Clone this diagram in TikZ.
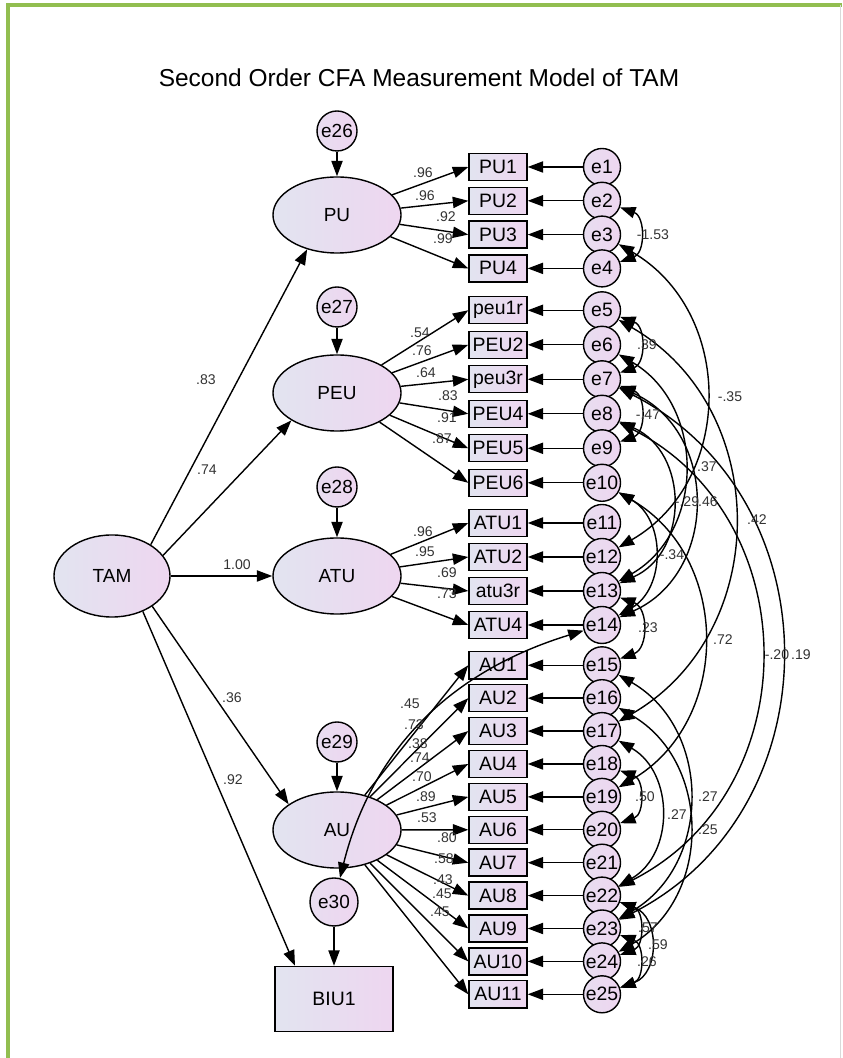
\documentclass[tikz,border=0pt]{standalone}
\usepackage{fontspec}
\setmainfont{Liberation Sans}
\usetikzlibrary{arrows.meta,shapes.geometric,calc}
\definecolor{lavl}{RGB}{226,228,240}
\definecolor{lavr}{RGB}{238,214,240}
\definecolor{framegreen}{RGB}{146,190,80}
\tikzset{
  latent/.style={ellipse,draw,left color=lavl,right color=lavr,minimum width=3.2cm,minimum height=1.9cm,inner sep=0pt,font=\fontsize{13.5}{15}\selectfont},
  ind/.style={rectangle,draw,left color=lavl,right color=lavr,minimum width=1.45cm,minimum height=0.675cm,inner sep=0pt,font=\fontsize{13.8}{15}\selectfont},
  err/.style={circle,draw,left color=lavl!50!lavr,right color=lavr,minimum size=0.925cm,inner sep=0pt,font=\fontsize{13.8}{15}\selectfont},
  dist/.style={err,minimum size=1cm,font=\fontsize{13.5}{15}\selectfont},
  coef/.style={inner sep=0pt,text=black!80,font=\fontsize{10}{11}\selectfont},
  covshort/.style={bend left=70,looseness=1.27},
  covlong/.style={bend left=60,looseness=1.135},
}
\begin{document}
\begin{tikzpicture}[x=0.025cm,y=0.025cm,line width=1pt,>={Triangle[length=11pt,width=8pt]}]
\useasboundingbox (0,0) rectangle (842,1058);
\draw[framegreen,line width=2.2pt](8,0)--(8,1053)--(842,1053);
\draw[black!15,line width=0.6pt](840,0)--(840,1053);
\node[font=\fontsize{17.4}{20}\selectfont] (title) at (419,980) {Second Order CFA Measurement Model of TAM};
%% latent variables
\node[latent,minimum width=2.9cm,minimum height=2.05cm] (TAM) at (112,482) {TAM};
\node[latent] (PU) at (337,843) {PU};
\node[latent] (PEU) at (337,665) {PEU};
\node[latent] (ATU) at (337,482) {ATU};
\node[latent] (AU) at (337,228) {AU};
\node[ind,minimum width=2.95cm,minimum height=1.625cm] (BIU1) at (334,59) {BIU1};
\node[dist] (e26) at (337,927) {e26};
\node[dist] (e27) at (337,751) {e27};
\node[dist] (e28) at (337,571) {e28};
\node[dist] (e29) at (337,316) {e29};
\node[dist,minimum size=1.2cm] (e30) at (334,156) {e30};
%% indicators and their errors
\foreach \n/\t/\y in {1/PU1/891,2/PU2/857.2,3/PU3/823.4,4/PU4/789.6,
  5/peu1r/747.7,6/PEU2/713.2,7/peu3r/678.7,8/PEU4/644.2,9/PEU5/609.7,10/PEU6/575.2,
  11/ATU1/535,12/ATU2/501,13/atu3r/467,14/ATU4/433,
  15/AU1/392.7,16/AU2/359.8,17/AU3/326.9,18/AU4/294,19/AU5/261.1,20/AU6/228.2,
  21/AU7/195.3,22/AU8/162.4,23/AU9/129.5,24/AU10/96.6,25/AU11/63.7}{
  \node[ind] (i\n) at (498,\y) {\t};
  \node[err] (e\n) at (602,\y) {e\n};
  \draw[->] (e\n) -- (i\n);
}
%% structural paths
\draw[->] (TAM.39) -- (PU.229);
\draw[->] (TAM.22) -- (PEU.211);
\draw[->] (TAM) -- (ATU);
\draw[->] (TAM.-37) -- (AU.152);
\draw[->] (TAM.-49) -- ($(BIU1.north)+(-39,0)$);
\draw[->] (e26) -- (PU);
\draw[->] (e27) -- (PEU);
\draw[->] (e28) -- (ATU);
\draw[->] (e29) -- (AU);
\draw[->] (e30) -- (BIU1);
%% loadings
\foreach \n in {1,...,4} \draw[->] (PU) -- (i\n.west);
\foreach \n in {5,...,10} \draw[->] (PEU) -- (i\n.west);
\foreach \n in {11,...,14} \draw[->] (ATU) -- (i\n.west);
\foreach \n in {15,...,25} \draw[->] (AU) -- (i\n.west);
%% error covariances
\draw[<->] (e2) to[covshort] (e4);
\draw[<->] (e5) to[covshort] (e7);
\draw[<->] (e7) to[covshort] (e9);
\draw[<->] (e13) to[covshort] (e15);
\draw[<->] (e18) to[covshort] (e20);
\draw[<->] (e22) to[covshort] (e24);
\draw[<->] (e23) to[covshort] (e25);
\draw[<->] (e22) to[covshort] (e25);
\draw[<->] (e3) to[covlong] (e12);
\draw[<->] (e6) to[covlong] (e13);
\draw[<->] (e8) to[bend left=66,looseness=1.21] (e13);
\draw[<->] (e7) to[bend left=66,looseness=1.21] (e14);
\draw[<->] (e5) to[covlong] (e17);
\draw[<->] (e10) to[covlong] (e14);
\draw[<->] (e10) to[covlong] (e19);
\draw[<->] (e8) to[bend left=63,looseness=1.17] (e22);
\draw[<->] (e7) to[bend left=63,looseness=1.17] (e23);
\draw[<->] (e17) to[covlong] (e22);
\draw[<->] (e15) to[covlong] (e23);
\draw[<->] (e16) to[covlong] (e24);
\draw[<->] (e14) to[out=197,in=76] (e30);
%% estimates
\foreach \x/\y/\v [count=\k] in {206/678/.83,207/588/.74,237/493/1.00,232/360/.36,233/278/.92,
  423/885/.96,425/862/.96,446/841/.92,443/819/.99,
  420/725/.54,422/707/.76,426/685/.64,448/662/.83,447/640/.91,442/619/.87,
  423/526/.96,425/506/.95,447/485/.69,447/464/.73,
  410/354/.45,414/333/.73,418/314/.38,420/300/.74,422/281/.70,426/261/.89,
  427/240/.53,447/220/.80,444/199/.58,443/178/.43,442/164/.45,440/146/.45,
  653/823/-1.53,647/713/.39,648/643/-.47,730/661/-.35,707/591/.37,687/556/-.29,
  708/556/.46,757/538/.42,672/503/-.34,648/430/.23,723/418/.72,777/403/-.20,
  801/403/.19,645/261/.50,677/243/.27,708/261/.27,708/228/.25,648/130/.57,
  658/113/.59,647/96/.26}
  \node[coef] (c\k) at (\x,\y) {\v};
\end{tikzpicture}
\end{document}
